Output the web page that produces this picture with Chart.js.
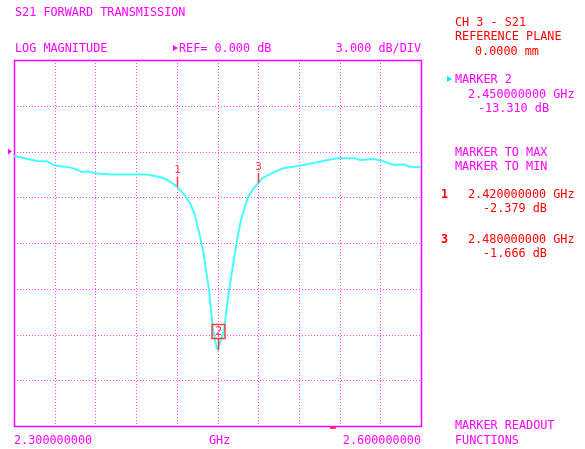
<!DOCTYPE html>
<html>
<head>
<meta charset="utf-8">
<script src="https://cdn.jsdelivr.net/npm/chart.js@4/dist/chart.umd.min.js"></script>
<style>
  html,body{margin:0;padding:0;background:#fff;}
  #wrap{position:relative;width:585px;height:449px;overflow:hidden;}
  canvas{position:absolute;left:0;top:0;}
  .t{position:absolute;white-space:pre;font-family:'DejaVu Sans Mono',monospace;font-size:11.8px;line-height:12px;transform:translateY(-50%) scaleY(1.1);}
  .m{color:#ff00ff;}
  .r{color:#ff0000;}
  .tri{position:absolute;width:0;height:0;border-top:3px solid transparent;border-bottom:3px solid transparent;}
</style>
</head>
<body>
<div id="wrap">
<canvas id="c" width="585" height="449"></canvas>
</div>
<script>
// ---- data ----
const freqGHz = [2.3000,2.3044,2.3103,2.3170,2.3243,2.3295,2.3339,2.3413,2.3472,2.3501,2.3538,2.3597,2.3722,2.3966,2.4039,2.4098,2.4150,2.4200,2.4246,2.4297,2.4334,2.4371,2.4393,2.4437,2.4467,2.4489,2.4500,2.4526,2.4548,2.4585,2.4644,2.4673,2.4725,2.4762,2.4800,2.4828,2.4887,2.4983,2.5108,2.5233,2.5381,2.5513,2.5550,2.5646,2.5713,2.5757,2.5808,2.5867,2.5919,2.6000];
const s21dB   = [-0.30,-0.38,-0.49,-0.62,-0.64,-0.89,-0.97,-1.04,-1.21,-1.36,-1.30,-1.43,-1.50,-1.50,-1.61,-1.74,-1.98,-2.30,-2.74,-3.38,-4.16,-5.59,-6.46,-9.08,-11.70,-12.69,-12.95,-12.36,-11.70,-9.08,-5.80,-4.49,-2.98,-2.46,-2.07,-1.76,-1.48,-1.10,-0.93,-0.71,-0.45,-0.45,-0.56,-0.49,-0.60,-0.77,-0.89,-0.84,-1.00,-1.04];
const markerNums  = [1, 2, 3];
const markerFreqs = [2.42, 2.45, 2.48];
const activeMarker = 2;
const startLabel = "2.300000000";
const stopLabel  = "2.600000000";
const refLevel = 0;       // dB
const scaleDiv = 3;       // dB/div
const yMin = -18, yMax = 6;
const xMin = 2.3, xMax = 2.6;
const xDivs = 10;
const stimIndicatorFreq = 2.535;

// ---- text annotations ----
const texts = [
  ["S21 FORWARD TRANSMISSION", 15, 12, "m", "l"],
  ["LOG MAGNITUDE", 15, 48, "m", "l"],
  ["REF= 0.000 dB", 179, 48, "m", "l"],
  ["3.000 dB/DIV", 421, 48, "m", "r"],
  ["CH 3 - S21", 455, 22, "r", "l"],
  ["REFERENCE PLANE", 455, 36, "r", "l"],
  ["0.0000 mm", 475, 51, "r", "l"],
  ["MARKER 2", 455, 79, "m", "l"],
  ["2.450000000 GHz", 468, 94, "m", "l"],
  ["-13.310 dB", 478, 108, "m", "l"],
  ["MARKER TO MAX", 455, 152, "m", "l"],
  ["MARKER TO MIN", 455, 166, "m", "l"],
  ["1", 441, 194, "r", "l", true],
  ["2.420000000 GHz", 468, 194, "r", "l"],
  ["-2.379 dB", 483, 208, "r", "l"],
  ["3", 441, 239, "r", "l", true],
  ["2.480000000 GHz", 468, 239, "r", "l"],
  ["-1.666 dB", 483, 253, "r", "l"],
  ["MARKER READOUT", 455, 425, "m", "l"],
  ["FUNCTIONS", 455, 440, "m", "l"],
  [startLabel, 14, 440, "m", "l"],
  ["GHz", 209, 440, "m", "l"],
  [stopLabel, 421, 440, "m", "r"]
];
const wrap = document.getElementById('wrap');
texts.forEach(([s,x,y,c,a,b])=>{
  const d=document.createElement('div');
  d.className='t '+c; d.textContent=s; d.style.top=y+'px';
  if(a==='r'){d.style.right=(585-x)+'px';} else {d.style.left=x+'px';}
  if(b) d.style.fontWeight='bold';
  wrap.appendChild(d);
});
function tri(x,y,color){
  const d=document.createElement('div'); d.className='tri';
  d.style.left=x+'px'; d.style.top=(y-3)+'px'; d.style.borderLeft='5px solid '+color;
  wrap.appendChild(d);
}
tri(173,48,'#ff00ff');
tri(447,79,'#00e0ff');

function traceAt(f){
  for(let i=0;i<freqGHz.length-1;i++){
    if(f>=freqGHz[i] && f<=freqGHz[i+1]){
      const t=(f-freqGHz[i])/(freqGHz[i+1]-freqGHz[i]);
      return s21dB[i]+t*(s21dB[i+1]-s21dB[i]);
    }
  }
  return s21dB[s21dB.length-1];
}

const gridPlugin = {
  id:'grid',
  beforeDatasetsDraw(chart){
    const {ctx, chartArea:a, scales:{x,y}} = chart;
    ctx.save();
    ctx.strokeStyle='#ff44ff'; ctx.lineWidth=1; ctx.setLineDash([1,2]);
    for(let i=1;i<xDivs;i++){
      const px=Math.round(x.getPixelForValue(xMin+(xMax-xMin)*i/xDivs))+0.5;
      ctx.beginPath(); ctx.moveTo(px,a.top); ctx.lineTo(px,a.bottom); ctx.stroke();
    }
    for(let v=yMin+scaleDiv; v<yMax; v+=scaleDiv){
      const py=Math.round(y.getPixelForValue(v))+0.5;
      ctx.beginPath(); ctx.moveTo(a.left,py); ctx.lineTo(a.right,py); ctx.stroke();
    }
    ctx.setLineDash([]);
    ctx.strokeStyle='#ff00ff'; ctx.lineWidth=1.5;
    ctx.strokeRect(Math.round(a.left)+0.5, Math.round(a.top)+0.5, Math.round(a.right-a.left), Math.round(a.bottom-a.top));
    // reference level arrow
    const ry=y.getPixelForValue(refLevel);
    ctx.fillStyle='#ff00ff';
    ctx.beginPath(); ctx.moveTo(a.left-6,ry-3); ctx.lineTo(a.left-2,ry); ctx.lineTo(a.left-6,ry+3); ctx.closePath(); ctx.fill();
    // stimulus indicator
    const sx=x.getPixelForValue(stimIndicatorFreq);
    ctx.strokeStyle='#ff0000'; ctx.lineWidth=1.5;
    ctx.beginPath(); ctx.moveTo(sx-3,a.bottom+2); ctx.lineTo(sx+3,a.bottom+2); ctx.stroke();
    ctx.restore();
  },
  afterDatasetsDraw(chart){
    const {ctx, scales:{x,y}} = chart;
    ctx.save();
    ctx.textAlign='center'; ctx.textBaseline='middle';
    markerNums.forEach((n,i)=>{
      const px=Math.round(x.getPixelForValue(markerFreqs[i]))+0.5;
      const py=y.getPixelForValue(traceAt(markerFreqs[i]));
      ctx.strokeStyle='rgba(255,30,30,0.85)'; ctx.fillStyle='rgba(255,30,30,0.85)';
      ctx.lineWidth=1.5;
      if(n===activeMarker){
        ctx.font="12px 'DejaVu Sans Mono', monospace";
        ctx.beginPath(); ctx.moveTo(px,py-11); ctx.lineTo(px,py+1); ctx.stroke();
        ctx.strokeRect(px-6.5, py-24.5, 13, 14);
        ctx.fillText(String(n), px, py-17);
      } else {
        ctx.font="11px 'DejaVu Sans Mono', monospace";
        ctx.beginPath(); ctx.moveTo(px,py-10); ctx.lineTo(px,py); ctx.stroke();
        ctx.fillText(String(n), px, py-16);
      }
    });
    ctx.restore();
  }
};

new Chart(document.getElementById('c'), {
  type:'line',
  data:{
    labels: freqGHz,
    datasets:[{
      data: freqGHz.map((f,i)=>({x:f,y:s21dB[i]})),
      borderColor:'#44ffff', borderWidth:2, pointRadius:0, tension:0, fill:false
    }]
  },
  options:{
    responsive:false, animation:false, devicePixelRatio:1,
    layout:{padding:{left:14,top:60,right:164,bottom:23}},
    plugins:{legend:{display:false}, tooltip:{enabled:false}},
    scales:{
      x:{type:'linear', min:xMin, max:xMax, display:false},
      y:{type:'linear', min:yMin, max:yMax, display:false, ticks:{stepSize:scaleDiv}}
    }
  },
  plugins:[gridPlugin]
});
</script>
</body>
</html>
